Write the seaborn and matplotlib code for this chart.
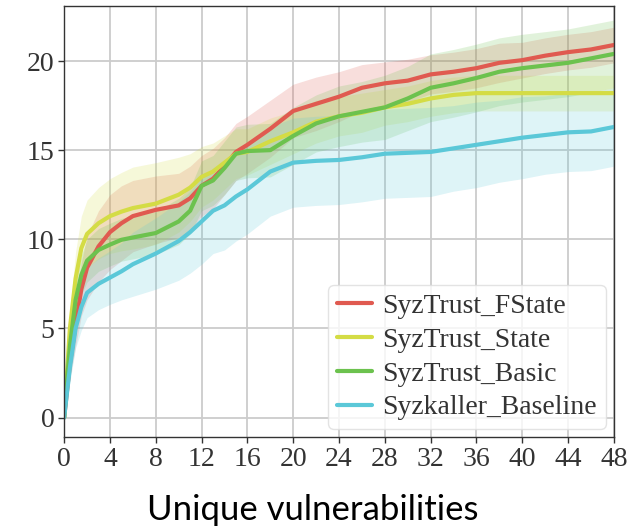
import numpy as np
import pandas as pd
import matplotlib.pyplot as plt
import seaborn as sns

#---------data----------------------------------
hours = [0, 0.5, 1, 1.5, 2, 3, 4, 5, 6, 8, 10, 11, 12, 13, 14, 15, 16,
         18, 20, 22, 24, 26, 28, 30, 32, 34, 36, 38, 40, 42, 44, 46, 48]

fstate = [0, 3.0, 5.2, 7.2, 8.4, 9.6, 10.4, 10.9, 11.3, 11.65, 11.9, 12.3, 13.0, 13.4, 14.1, 14.9, 15.3,
          16.2, 17.2, 17.6, 18.0, 18.5, 18.75, 18.9, 19.25, 19.4, 19.6, 19.9, 20.05, 20.3, 20.5, 20.65, 20.9]
state = [0, 5.0, 7.8, 9.5, 10.3, 10.9, 11.3, 11.55, 11.75, 12.0, 12.5, 12.9, 13.5, 13.8, 14.3, 14.8, 14.9,
         15.5, 16.0, 16.6, 16.9, 17.1, 17.4, 17.6, 17.9, 18.1, 18.2, 18.2, 18.2, 18.2, 18.2, 18.2, 18.2]
basic = [0, 4.0, 6.6, 8.0, 8.8, 9.4, 9.7, 9.97, 10.1, 10.35, 11.0, 11.6, 13.0, 13.3, 14.0, 14.8, 14.95,
         15.0, 15.8, 16.5, 16.9, 17.15, 17.4, 17.9, 18.5, 18.75, 19.05, 19.4, 19.6, 19.75, 19.9, 20.15, 20.4]
baseline = [0, 2.8, 5.0, 6.2, 7.0, 7.5, 7.85, 8.2, 8.6, 9.2, 9.9, 10.4, 11.0, 11.6, 11.9, 12.4, 12.8,
            13.8, 14.3, 14.4, 14.45, 14.6, 14.8, 14.85, 14.9, 15.1, 15.3, 15.5, 15.7, 15.85, 16.0, 16.05, 16.3]

# half width of the shaded band
fstate_sd = [0, 0.8, 1.2, 1.5, 1.8, 2.0, 2.1, 2.1, 2.0, 1.9, 1.8, 1.8, 1.7, 1.7, 1.6, 1.6, 1.6,
             1.6, 1.5, 1.5, 1.4, 1.3, 1.2, 1.2, 1.1, 1.1, 1.1, 1.1, 1.0, 1.0, 1.0, 1.0, 1.0]
state_sd = [0, 1.0, 1.5, 1.8, 1.9, 2.0, 2.1, 2.2, 2.3, 2.3, 2.1, 1.9, 1.7, 1.6, 1.5, 1.4, 1.3,
            1.3, 1.2, 1.2, 1.1, 1.1, 1.0, 1.0, 1.0, 1.0, 1.0, 1.0, 1.0, 1.0, 1.0, 1.0, 1.0]
basic_sd = [0, 0.8, 1.0, 1.1, 1.2, 1.2, 1.2, 1.2, 1.2, 1.2, 1.3, 1.3, 1.4, 1.4, 1.5, 1.5, 1.5,
            1.5, 1.6, 1.6, 1.7, 1.7, 1.8, 1.8, 1.9, 1.9, 1.9, 1.9, 1.9, 1.9, 1.9, 1.9, 1.9]
baseline_sd = [0, 0.8, 1.1, 1.3, 1.4, 1.45, 1.5, 1.6, 1.8, 2.0, 2.2, 2.3, 2.4, 2.4, 2.5, 2.5, 2.5,
               2.5, 2.5, 2.5, 2.5, 2.5, 2.5, 2.5, 2.5, 2.4, 2.4, 2.3, 2.3, 2.2, 2.2, 2.2, 2.2]

labels = ["SyzTrust_FState", "SyzTrust_State", "SyzTrust_Basic", "Syzkaller_Baseline"]
colors = ["#e05a50", "#d4dc45", "#6cc24e", "#5bc8d8"]

rows = []
for name, vals, sds in zip(labels, [fstate, state, basic, baseline],
                           [fstate_sd, state_sd, basic_sd, baseline_sd]):
    for h, v, s in zip(hours, vals, sds):
        rows.append({"hour": h, "vulns": v, "sd": s, "fuzzer": name})
df = pd.DataFrame(rows)

#---------plot-----------
sns.set_style("whitegrid")
plt.rcParams['font.family'] = ['Liberation Serif', 'DejaVu Serif']

fig = plt.figure(figsize=(6.29, 5.26), dpi=100)
ax = fig.add_axes([0.102, 0.169, 0.874, 0.82])

for name, c in zip(labels, colors):
    d = df[df["fuzzer"] == name]
    ax.fill_between(d["hour"], d["vulns"] - d["sd"], d["vulns"] + d["sd"],
                    color=c, alpha=0.2, linewidth=0)

sns.lineplot(data=df, x="hour", y="vulns", hue="fuzzer", palette=colors,
             linewidth=3, ax=ax)

ax.set_xlim(0, 48)
ax.set_ylim(-1.1, 23.1)
ax.set_xticks(range(0, 49, 4))
ax.set_yticks([0, 5, 10, 15, 20])
ax.tick_params(axis="both", labelsize=20, colors="#333333", length=4,
               width=1, direction="out", left=True, bottom=True, pad=3)
for sp in ax.spines.values():
    sp.set_color("#333333")
    sp.set_linewidth(1.0)
ax.grid(color="#cccccc", linewidth=1.3)
ax.set_ylabel("")
ax.set_xlabel("")
fig.text(313 / 629, 0.012, "Unique vulnerabilities", fontsize=25,
         family=["Lato", "DejaVu Sans"], color="black", ha="center", va="baseline")

leg = ax.legend(loc="lower right", fontsize=20, frameon=True, handlelength=1.25,
                handletextpad=0.4, borderaxespad=0.3, borderpad=0.3,
                labelspacing=0.3)
leg.get_frame().set_edgecolor("#dddddd")
for t in leg.get_texts():
    t.set_color("#333333")

plt.savefig("out.png", dpi=100)
